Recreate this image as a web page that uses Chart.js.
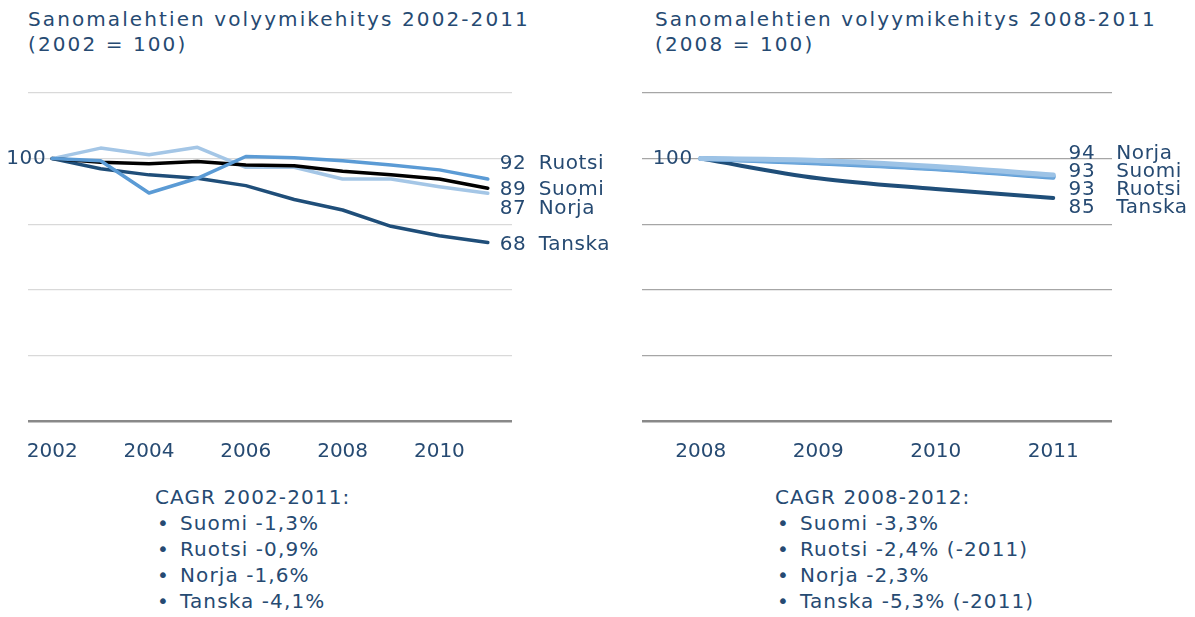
<!DOCTYPE html>
<html lang="fi">
  <head>
    <meta charset="UTF-8" />
    <title>Sanomalehtien volyymikehitys</title>
    <style>
      body {
        margin: 0;
        width: 1195px;
        height: 617px;
        background: #fff;
        position: relative;
        overflow: hidden;
        font-family: "DejaVu Sans", Verdana, sans-serif;
        color: #264a72;
      }
      .title {
        position: absolute;
        top: 7px;
        font-size: 20px;
        line-height: 25px;
        letter-spacing: 2.1px;
      }
      .cagr {
        position: absolute;
        top: 484px;
        font-size: 20px;
        line-height: 26px;
        letter-spacing: 1.1px;
      }
      .cagr .b {
        display: inline-block;
        width: 23px;
        padding-left: 2px;
      }
      canvas {
        position: absolute;
        top: 80px;
      }
    </style>
  </head>
  <body>
    <div class="title" style="left: 28px">
      Sanomalehtien volyymikehitys 2002-2011<br />(2002 = 100)
    </div>
    <div class="title" style="left: 655px">
      Sanomalehtien volyymikehitys 2008-2011<br />(2008 = 100)
    </div>

    <canvas id="chartLeft" width="620" height="391" style="left: 0"></canvas>
    <canvas id="chartRight" width="575" height="391" style="left: 620px"></canvas>

    <div class="cagr" style="left: 155px">
      CAGR 2002-2011:<br />
      <span class="b">•</span>Suomi -1,3%<br />
      <span class="b">•</span>Ruotsi -0,9%<br />
      <span class="b">•</span>Norja -1,6%<br />
      <span class="b">•</span>Tanska -4,1%
    </div>
    <div class="cagr" style="left: 775px">
      CAGR 2008-2012:<br />
      <span class="b">•</span>Suomi -3,3%<br />
      <span class="b">•</span>Ruotsi -2,4% (-2011)<br />
      <span class="b">•</span>Norja -2,3%<br />
      <span class="b">•</span>Tanska -5,3% (-2011)
    </div>

    <script src="https://cdn.jsdelivr.net/npm/chart.js"></script>

    <script>
      // 2002-2011, index 2002 = 100
      const years1 = ["2002", "2003", "2004", "2005", "2006", "2007", "2008", "2009", "2010", "2011"];
      const suomi1 = [100, 98.6, 98, 98.9, 97.6, 97.3, 95.2, 93.8, 92.2, 88.7];
      const ruotsi1 = [100, 99.2, 86.9, 92.5, 100.8, 100.3, 99.2, 97.6, 95.7, 92.2];
      const norja1 = [100, 104, 101.5, 104.3, 96.7, 96.7, 92.2, 92.2, 89.3, 86.8];
      const tanska1 = [100, 96.1, 93.8, 92.5, 89.7, 84.4, 80.4, 74.2, 70.6, 68];

      // 2008-2011, index 2008 = 100
      const years2 = ["2008", "2009", "2010", "2011"];
      const suomi2 = [100, 98.6, 96.3, 93.2];
      const ruotsi2 = [100, 98.2, 96, 92.8];
      const norja2 = [100, 99.3, 97, 93.8];
      const tanska2 = [100, 92.5, 88.4, 85];

      const yTicks = [0, 25, 50, 75, 100, 125];

      const navy = "#264a72";
      const fontFamily = '"DejaVu Sans", Verdana, sans-serif';

      // writes "100" before the first point and "value name" after the last ones
      const endLabels = {
        id: "endLabels",
        afterDatasetsDraw(chart, args, opts) {
          const ctx = chart.ctx;
          ctx.save();
          ctx.font = "20px " + fontFamily;
          ctx.fillStyle = navy;
          ctx.textBaseline = "middle";
          ctx.letterSpacing = "0.6px";

          const first = chart.getDatasetMeta(0).data[0];
          ctx.textAlign = "right";
          ctx.fillText(String(chart.data.datasets[0].data[0]), first.x - opts.startGap, first.y);

          chart.data.datasets.forEach((ds, i) => {
            const pts = chart.getDatasetMeta(i).data;
            const last = pts[pts.length - 1];
            const y = last.y + opts.nudge[i];
            const val = String(Math.round(ds.data[ds.data.length - 1]));
            ctx.textAlign = opts.numAlign;
            ctx.fillText(val, last.x + opts.numX, y);
            ctx.textAlign = "left";
            ctx.fillText(ds.label, last.x + opts.nameX, y);
          });
          ctx.restore();
        },
      };

      function makeOptions(gridColor, tickCb, padding, labelOpts, tension) {
        return {
          responsive: false,
          animation: false,
          layout: { padding: padding },
          elements: {
            point: { radius: 0 },
            line: { tension: tension, borderCapStyle: "round", borderJoinStyle: "round" },
          },
          plugins: {
            legend: { display: false },
            tooltip: { enabled: false },
            endLabels: labelOpts,
          },
          scales: {
            x: {
              type: "category",
              offset: true,
              grid: { display: false, drawTicks: false },
              border: { display: false },
              ticks: {
                autoSkip: false,
                maxRotation: 0,
                padding: 19,
                color: navy,
                font: { size: 20, family: fontFamily },
                callback: tickCb,
              },
              afterFit(scale) {
                scale.height = 50;
              },
            },
            y: {
              min: 0,
              max: 125,
              afterBuildTicks(scale) {
                scale.ticks = yTicks.map((v) => ({ value: v }));
              },
              ticks: { display: false },
              border: { display: false },
              grid: {
                drawTicks: false,
                color: (c) => (c.tick.value === 0 ? "#898989" : gridColor),
                lineWidth: (c) => (c.tick.value === 0 ? 2.5 : 1.2),
              },
            },
          },
        };
      }

      new Chart(document.getElementById("chartLeft"), {
        type: "line",
        data: {
          labels: years1,
          datasets: [
            { label: "Ruotsi", data: ruotsi1, borderColor: "#5b9bd5", borderWidth: 3.5 },
            { label: "Suomi", data: suomi1, borderColor: "#000000", borderWidth: 3.5 },
            { label: "Norja", data: norja1, borderColor: "#a4c6e6", borderWidth: 3.5 },
            { label: "Tanska", data: tanska1, borderColor: "#1f4e79", borderWidth: 3.5 },
          ],
        },
        options: makeOptions(
          "#d9d9d9",
          function (value, index) {
            return index % 2 === 0 ? this.getLabelForValue(value) : "";
          },
          { left: 28, right: 108, top: 13, bottom: 0 },
          { startGap: 6, numAlign: "left", numX: 12, nameX: 51, nudge: [-15, 2, 16, 2] },
          0
        ),
        plugins: [endLabels],
      });

      new Chart(document.getElementById("chartRight"), {
        type: "line",
        data: {
          labels: years2,
          datasets: [
            { label: "Norja", data: norja2, borderColor: "#9dc3e6", borderWidth: 5 },
            { label: "Suomi", data: suomi2, borderColor: "#6fa8dc", borderWidth: 5 },
            { label: "Ruotsi", data: ruotsi2, borderColor: "#5b9bd5", borderWidth: 4.5 },
            { label: "Tanska", data: tanska2, borderColor: "#1f4e79", borderWidth: 4 },
          ],
        },
        options: makeOptions(
          "#a6a6a6",
          function (value) {
            return this.getLabelForValue(value);
          },
          { left: 22, right: 83, top: 13, bottom: 0 },
          { startGap: 8, numAlign: "right", numX: 42, nameX: 63, nudge: [-21, -5, 12, 10] },
          0.35
        ),
        plugins: [endLabels],
      });
    </script>
  </body>
</html>
